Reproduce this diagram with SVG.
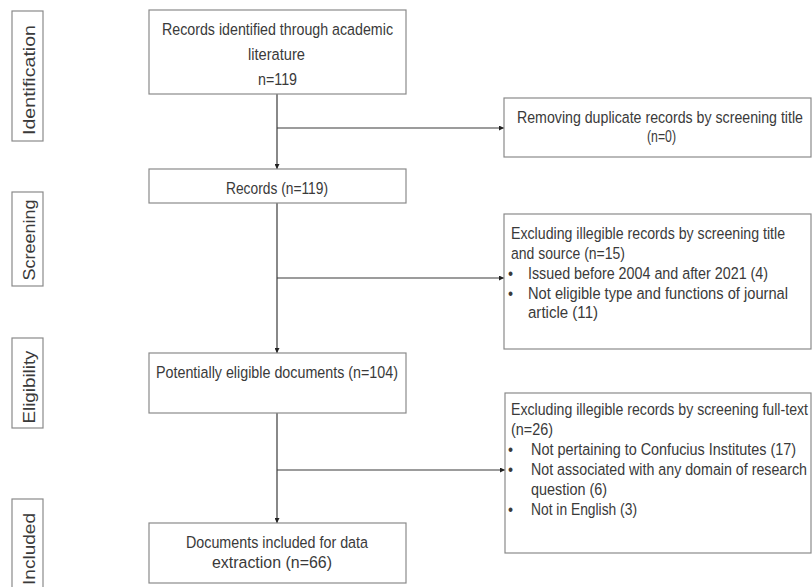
<svg xmlns="http://www.w3.org/2000/svg" width="812" height="587" viewBox="0 0 812 587">
<style>
.box{fill:#fff;stroke:#8a8a8a;stroke-width:1.2}
.lbl{fill:#fff;stroke:#8a8a8a;stroke-width:1.2}
text{font-family:"Liberation Sans",Arial,sans-serif;font-size:17px;fill:#3a3a3a}
.c{text-anchor:middle}
.ln{fill:none;stroke:#3a3a3a;stroke-width:1.2}
</style>
<defs>
<marker id="ah" viewBox="0 0 6 6" refX="6" refY="3" markerWidth="5" markerHeight="5" markerUnits="userSpaceOnUse" orient="auto">
<path d="M0,0 L6,3 L0,6 z" fill="#222"/>
</marker>
</defs>
<rect width="812" height="587" fill="#fff"/>

<g id="stage-identification">
<rect class="lbl" x="12" y="11" width="31" height="130"/>
<text class="c" transform="translate(35,80) rotate(-90)" textLength="110" lengthAdjust="spacingAndGlyphs">Identification</text>
</g>
<g id="stage-screening">
<rect class="lbl" x="12" y="192" width="31" height="94"/>
<text class="c" transform="translate(35,240) rotate(-90)" textLength="81" lengthAdjust="spacingAndGlyphs">Screening</text>
</g>
<g id="stage-eligibility">
<rect class="lbl" x="12" y="338" width="31" height="90"/>
<text class="c" transform="translate(35,387) rotate(-90)" textLength="73" lengthAdjust="spacingAndGlyphs">Eligibility</text>
</g>
<g id="stage-included">
<rect class="lbl" x="12" y="499" width="31" height="100"/>
<text class="c" transform="translate(35,549) rotate(-90)" textLength="72" lengthAdjust="spacingAndGlyphs">Included</text>
</g>

<g id="connectors">
<path class="ln" d="M277,94 V169" marker-end="url(#ah)"/>
<path class="ln" d="M277,128 H504" marker-end="url(#ah)"/>
<path class="ln" d="M277,203 V353" marker-end="url(#ah)"/>
<path class="ln" d="M277,278 H504" marker-end="url(#ah)"/>
<path class="ln" d="M277,413 V523" marker-end="url(#ah)"/>
<path class="ln" d="M277,470 H505" marker-end="url(#ah)"/>
</g>

<g id="n-records-identified">
<rect class="box" x="149" y="10" width="257" height="84"/>
<g transform="scale(0.85,1)">
<text class="c" x="326.47" y="35" textLength="271.8" lengthAdjust="spacingAndGlyphs">Records identified through academic</text>
<text class="c" x="325.29" y="60" textLength="67.1" lengthAdjust="spacingAndGlyphs">literature</text>
<text class="c" x="326.47" y="85" textLength="45.9" lengthAdjust="spacingAndGlyphs">n=119</text>
</g>
</g>

<g id="n-records">
<rect class="box" x="149" y="169" width="257" height="34"/>
<g transform="scale(0.85,1)">
<text class="c" x="325.88" y="194" textLength="120" lengthAdjust="spacingAndGlyphs">Records (n=119)</text>
</g>
</g>

<g id="n-potentially-eligible">
<rect class="box" x="149" y="353" width="257" height="60"/>
<g transform="scale(0.85,1)">
<text class="c" x="325.88" y="378" textLength="284.7" lengthAdjust="spacingAndGlyphs">Potentially eligible documents (n=104)</text>
</g>
</g>

<g id="n-included">
<rect class="box" x="149" y="523" width="257" height="60"/>
<g transform="scale(0.85,1)">
<text class="c" x="325.88" y="548" textLength="214.1" lengthAdjust="spacingAndGlyphs">Documents included for data</text>
<text class="c" x="320" y="568" textLength="141.2" lengthAdjust="spacingAndGlyphs">extraction  (n=66)</text>
</g>
</g>

<g id="n-removing-duplicates">
<rect class="box" x="504" y="98" width="307" height="59"/>
<g transform="scale(0.85,1)">
<text class="c" x="776.47" y="123" textLength="336.5" lengthAdjust="spacingAndGlyphs">Removing duplicate records by screening title</text>
<text class="c" x="778.24" y="142" textLength="34.1" lengthAdjust="spacingAndGlyphs">(n=0)</text>
</g>
</g>

<g id="n-excluding-title">
<rect class="box" x="504" y="214" width="307" height="135"/>
<g transform="scale(0.85,1)">
<text x="601.18" y="239" textLength="322.4" lengthAdjust="spacingAndGlyphs">Excluding illegible records by screening title</text>
<text x="601.18" y="259" textLength="134.1" lengthAdjust="spacingAndGlyphs">and source (n=15)</text>
<text x="597.65" y="279">•</text>
<text x="621.18" y="279" textLength="282.4" lengthAdjust="spacingAndGlyphs">Issued before 2004 and after 2021 (4)</text>
<text x="597.65" y="299">•</text>
<text x="621.18" y="299" textLength="305.9" lengthAdjust="spacingAndGlyphs">Not eligible type and functions of journal</text>
<text x="621.18" y="318" textLength="82.4" lengthAdjust="spacingAndGlyphs">article (11)</text>
</g>
</g>

<g id="n-excluding-fulltext">
<rect class="box" x="505" y="393" width="306" height="160"/>
<g transform="scale(0.85,1)">
<text x="601.18" y="415" style="font-size:16.4px" textLength="349.4" lengthAdjust="spacingAndGlyphs">Excluding illegible records by screening full-text</text>
<text x="601.18" y="435" textLength="49.4" lengthAdjust="spacingAndGlyphs">(n=26)</text>
<text x="597.65" y="455">•</text>
<text x="624.71" y="455" textLength="311.8" lengthAdjust="spacingAndGlyphs">Not pertaining to Confucius Institutes (17)</text>
<text x="597.65" y="475">•</text>
<text x="624.71" y="475" textLength="324.7" lengthAdjust="spacingAndGlyphs">Not associated with any domain of research</text>
<text x="624.71" y="495" textLength="89.4" lengthAdjust="spacingAndGlyphs">question (6)</text>
<text x="597.65" y="515">•</text>
<text x="624.71" y="515" textLength="124.7" lengthAdjust="spacingAndGlyphs">Not in English (3)</text>
</g>
</g>
</svg>
